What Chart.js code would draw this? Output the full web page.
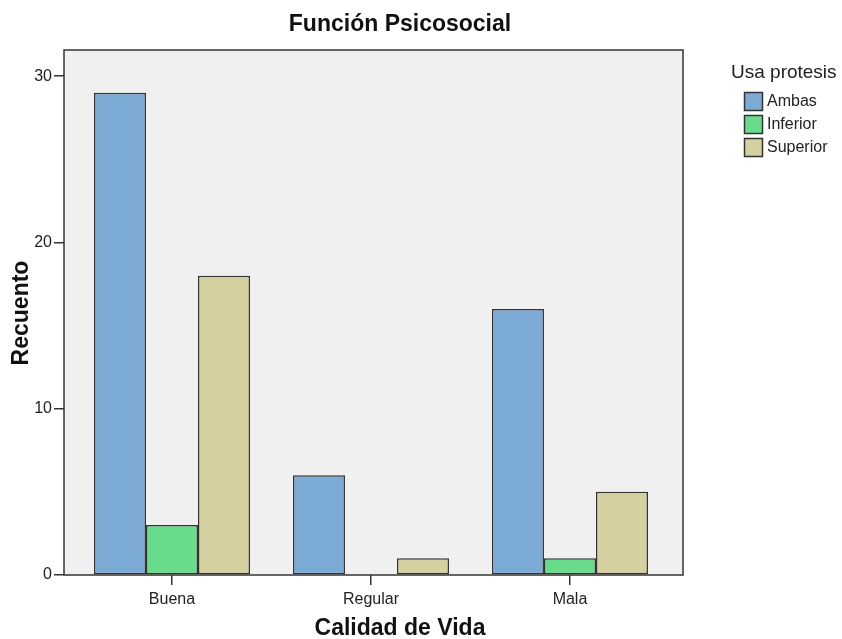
<!DOCTYPE html>
<html>
<head>
<meta charset="utf-8">
<script src="https://cdn.jsdelivr.net/npm/chart.js@4.4.1/dist/chart.umd.min.js"></script>
<style>
  body { margin: 0; background: #fff; }
  #wrap { width: 842px; height: 639px; }
</style>
</head>
<body>
<div id="wrap"><canvas id="chart" width="842" height="639"></canvas></div>
<script>
// data
const categories = ['Buena', 'Regular', 'Mala']
const seriesNames = ['Ambas', 'Inferior', 'Superior']
const ambas = [29, 6, 16]
const inferior = [3, 0, 1]
const superior = [18, 1, 5]
const yTicks = [0, 10, 20, 30]

const colors = ['#7baad4', '#68dc8b', '#d4d09f']
const FONT = "'Liberation Sans', Arial, sans-serif"

const toPoints = arr => arr.map((y, i) => ({ x: i, y: y }))

// background, frame, titles and legend (SPSS look)
const spssFrame = {
  id: 'spssFrame',
  beforeDraw(chart) {
    const { ctx, chartArea: a } = chart
    ctx.save()
    ctx.fillStyle = '#f0f0f0'
    ctx.fillRect(a.left, a.top, a.right - a.left, a.bottom - a.top)
    ctx.restore()
  },
  afterDraw(chart) {
    const { ctx, chartArea: a } = chart
    ctx.save()
    ctx.strokeStyle = '#333'
    ctx.lineWidth = 1.5
    ctx.strokeRect(a.left, a.top, a.right - a.left, a.bottom - a.top)

    ctx.fillStyle = '#111'
    ctx.textAlign = 'center'
    ctx.textBaseline = 'alphabetic'
    ctx.font = 'bold 23px ' + FONT
    ctx.fillText('Función Psicosocial', 400, 31)
    ctx.fillText('Calidad de Vida', 400, 635)

    ctx.save()
    ctx.translate(28, 313)
    ctx.rotate(-Math.PI / 2)
    ctx.fillText('Recuento', 0, 0)
    ctx.restore()

    // legend
    ctx.textAlign = 'left'
    ctx.font = '19px ' + FONT
    ctx.fillStyle = '#222'
    ctx.fillText('Usa protesis', 731, 78)
    ctx.font = '16px ' + FONT
    ctx.textBaseline = 'middle'
    ctx.lineWidth = 1.5
    seriesNames.forEach((name, i) => {
      const y = 92 + i * 23
      ctx.fillStyle = colors[i]
      ctx.fillRect(744, y, 18, 18)
      ctx.strokeStyle = '#333'
      ctx.strokeRect(744.5, y + 0.5, 18, 18)
      ctx.fillStyle = '#222'
      ctx.fillText(name, 767, y + 10)
    })
    ctx.restore()
  }
}

new Chart(document.getElementById('chart'), {
  type: 'bar',
  data: {
    datasets: [
      { label: seriesNames[0], data: toPoints(ambas), backgroundColor: colors[0] },
      { label: seriesNames[1], data: toPoints(inferior), backgroundColor: colors[1] },
      { label: seriesNames[2], data: toPoints(superior), backgroundColor: colors[2] }
    ]
  },
  options: {
    responsive: false,
    animation: false,
    devicePixelRatio: 1,
    layout: { padding: { top: 50, right: 159, bottom: 0, left: 0 } },
    datasets: {
      bar: {
        borderColor: '#333',
        borderWidth: 1.5,
        borderSkipped: false,
        categoryPercentage: 0.784,
        barPercentage: 1
      }
    },
    plugins: {
      legend: { display: false },
      title: { display: false },
      tooltip: { enabled: false }
    },
    scales: {
      x: {
        type: 'linear',
        min: -0.5427,
        max: 2.568,
        offset: false,
        border: { display: false },
        grid: { offset: false, drawOnChartArea: false, drawTicks: true, tickLength: 10, color: '#333', lineWidth: 1.5 },
        ticks: {
          font: { family: FONT, size: 16 },
          color: '#222',
          padding: 5,
          maxRotation: 0,
          autoSkip: false,
          callback: v => categories[v] ?? ''
        },
        afterBuildTicks: s => { s.ticks = categories.map((c, i) => ({ value: i })) },
        afterFit: s => { s.height = 64 }
      },
      y: {
        min: 0,
        max: 31.57,
        border: { display: false },
        grid: { drawOnChartArea: false, drawTicks: true, tickLength: 10, color: '#333', lineWidth: 1.5 },
        ticks: {
          font: { family: FONT, size: 16 },
          color: '#222',
          padding: 2
        },
        afterBuildTicks: s => { s.ticks = yTicks.map(v => ({ value: v })) },
        afterFit: s => { s.width = 64 }
      }
    }
  },
  plugins: [spssFrame]
})
</script>
</body>
</html>
